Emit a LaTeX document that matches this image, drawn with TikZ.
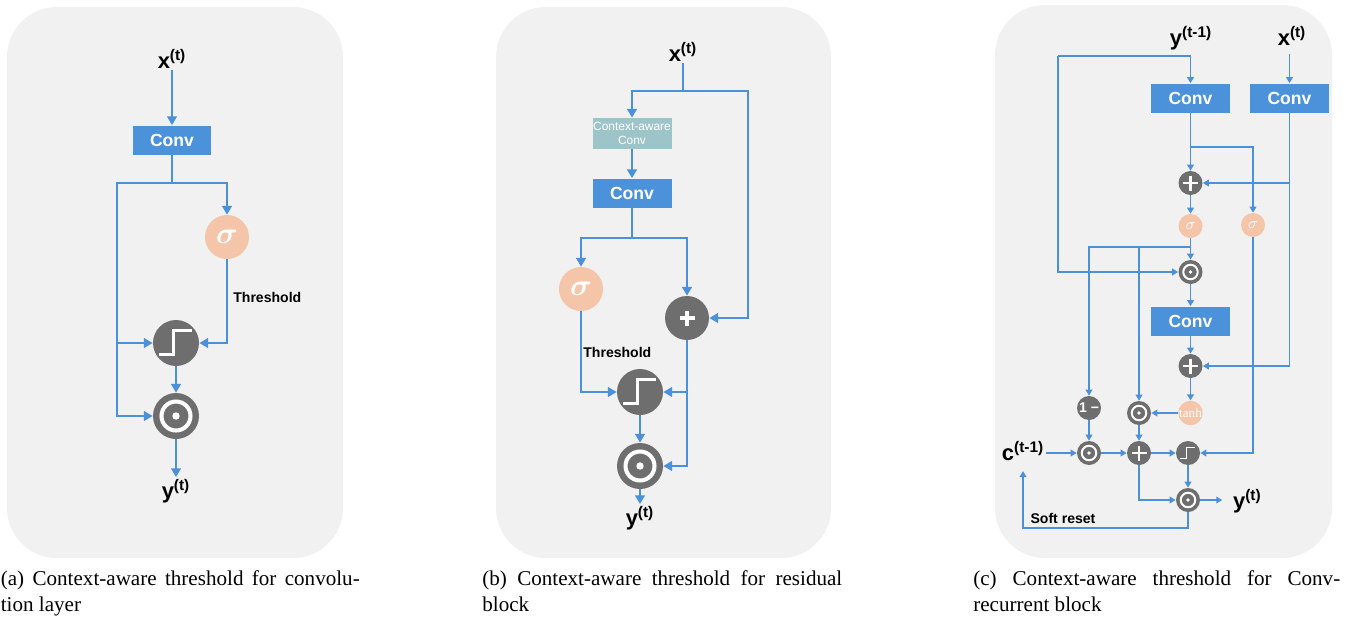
\documentclass[tikz,border=0pt]{standalone}
\usepackage{amsmath}
\usepackage{fontspec}
\setmainfont{Liberation Serif}
\setsansfont{Liberation Sans}
\usetikzlibrary{arrows.meta}
\definecolor{panelbg}{HTML}{F1F1F1}
\definecolor{lineblue}{HTML}{4A90DA}
\definecolor{convblue}{HTML}{4B92DB}
\definecolor{cagray}{HTML}{9DC4C9}
\definecolor{peach}{HTML}{F5C5A9}
\definecolor{opgray}{HTML}{6E6E6E}

\tikzstyle{every node} = [font=\sffamily\bfseries]
\tikzstyle{panel} = [fill=panelbg, rounded corners=1cm]
\tikzstyle{convbox} = [fill=convblue, text=white, minimum width=1.58cm, minimum height=0.58cm, inner sep=0pt, font=\fontsize{10}{12}\selectfont\sffamily\bfseries]
\tikzstyle{cabox} = [fill=cagray, text=white, minimum width=1.58cm, minimum height=0.62cm, inner sep=0pt, align=center, font=\fontsize{6.8}{8}\selectfont\sffamily]
\tikzstyle{sigcirc} = [circle, fill=peach, text=white, inner sep=0pt]
\tikzstyle{opnode} = [circle, fill=opgray, inner sep=0pt]
\tikzstyle{lbl} = [inner sep=1pt, font=\fontsize{12.5}{14}\selectfont\sffamily\bfseries]
\tikzstyle{note} = [inner sep=0pt, font=\fontsize{8}{10}\selectfont\sffamily\bfseries]
\tikzstyle{captxt} = [inner sep=0pt, font=\fontsize{12}{14.8}\selectfont\rmfamily\mdseries]
\tikzstyle{arr} = [draw=lineblue, line width=1.5pt, -{Triangle[length=5pt,width=5.5pt]}]
\tikzstyle{arrc} = [draw=lineblue, line width=1pt, -{Triangle[length=3.4pt,width=3.8pt]}]
\tikzset{
  bigop/.style={minimum size=0.92cm},
  smallop/.style={minimum size=0.48cm},
  bigsig/.style={sigcirc, minimum size=0.88cm, font=\fontsize{17}{17}\selectfont},
  smallsig/.style={sigcirc, minimum size=0.48cm, font=\fontsize{9}{9}\selectfont},
  stepop/.style={opnode, path picture={\draw[white, line width=#1*1.7pt, shift={(path picture bounding box.center)}]
      ({-16.9*#1},{11.5*#1}) -- ({-2.9*#1},{11.5*#1}) -- ({-2.9*#1},{-12.1*#1}) -- ({15.5*#1},{-12.1*#1});}},
  dotop/.style={opnode, path picture={\draw[white, line width=#1*2.3pt, shift={(path picture bounding box.center)}] (0,0) circle [radius={14.5*#1}];
      \fill[white, shift={(path picture bounding box.center)}] (0,0) circle [radius={3.7*#1}];}},
  plusop/.style 2 args={opnode, path picture={\draw[white, line width=#2, shift={(path picture bounding box.center)}] (-#1,0) -- (#1,0) (0,-#1) -- (0,#1);}}
}

\begin{document}
\begin{tikzpicture}[x=0.02cm, y=-0.02cm]
    \useasboundingbox (0,0) rectangle (1349,619);
    \fill[white] (0,0) rectangle (1349,619);
    \fill[panel] (7,7) rectangle (343,558);
    \fill[panel] (496,7) rectangle (831,558);
    \fill[panel] (995,5) rectangle (1332,558);

    % (a)
    \node[lbl, anchor=base] (xa) at (172,68) {x\textsuperscript{(t)}};
    \node[convbox] (conva) at (172,140) {Conv};
    \node[bigsig] (sga) at (227,237) {$\boldsymbol{\sigma}$};
    \node[stepop=1, bigop] (stpa) at (176,343) {};
    \node[dotop=1, bigop] (dota) at (176,416) {};
    \node[lbl, anchor=base] (ya) at (176,498) {y\textsuperscript{(t)}};
    \node[note, anchor=west] (tha) at (233,297) {Threshold};
    \coordinate (ja) at (172,183);
    \coordinate (busa) at (117,183);
    \draw[arr] (xa) -- (conva);
    \draw[arr] (conva.south) -- (ja) -| (sga.north);
    \draw[arr] (ja) -- (busa) |- (stpa.west);
    \draw[arr] (busa) |- (dota.west);
    \draw[arr] (sga.south) |- (stpa.east);
    \draw[arr] (stpa) -- (dota);
    \draw[arr] (dota) -- (ya);

    % (b)
    \node[lbl, anchor=base] (xb) at (683,61) {x\textsuperscript{(t)}};
    \node[cabox] (cab) at (632,133.5) {Context-aware\\Conv};
    \node[convbox] (convb) at (632,193) {Conv};
    \node[bigsig] (sgb) at (581,289) {$\boldsymbol{\sigma}$};
    \node[plusop={7.5}{2pt}, minimum size=0.88cm] (plb) at (687,318) {};
    \node[stepop=1, bigop] (stpb) at (640,392) {};
    \node[dotop=1, bigop] (dotb) at (640,466) {};
    \node[lbl, anchor=base] (yb) at (640,525) {y\textsuperscript{(t)}};
    \node[note, anchor=west] (thb) at (583,352) {Threshold};
    \coordinate (jb) at (683,91);
    \coordinate (rb) at (748,91);
    \coordinate (jb2) at (632,238);
    \draw[arr] (xb) -- (jb) -| (cab.north);
    \draw[arr] (jb) -- (rb) |- (plb.east);
    \draw[arr] (cab) -- (convb);
    \draw[arr] (convb.south) -- (jb2) -| (sgb.north);
    \draw[arr] (jb2) -| (plb.north);
    \draw[arr] (sgb.south) |- (stpb.west);
    \draw[arr] (plb.south) |- (stpb.east);
    \draw[arr] (plb.south) |- (dotb.east);
    \draw[arr] (stpb) -- (dotb);
    \draw[arr] (dotb) -- (yb);

    % (c)
    \node[lbl, anchor=base] (yc1) at (1191,45) {y\textsuperscript{(t-1)}};
    \node[lbl, anchor=base] (xc) at (1292,45) {x\textsuperscript{(t)}};
    \node[convbox] (cv1) at (1190.5,98) {Conv};
    \node[convbox] (cv2) at (1289.5,98) {Conv};
    \node[plusop={7.5}{1.5pt}, smallop] (pl1) at (1190.5,183) {};
    \node[smallsig] (sg1) at (1190.5,226) {$\sigma$};
    \node[smallsig] (sg2) at (1253,225) {$\sigma$};
    \node[dotop=0.5, smallop] (dt1) at (1190.5,272) {};
    \node[convbox] (cv3) at (1190.5,321) {Conv};
    \node[plusop={7.5}{1.5pt}, smallop] (pl2) at (1190.5,366) {};
    \node[smallsig, font=\fontsize{7.5}{8}\selectfont\rmfamily\mdseries] (th) at (1190.5,413) {tanh};
    \node[dotop=0.5, smallop] (dt2) at (1139,413) {};
    \node[opnode, smallop, text=white, font=\fontsize{8}{8}\selectfont\sffamily\bfseries] (om) at (1089,408) {1 −};
    \node[dotop=0.5, smallop] (dt3) at (1089,453) {};
    \node[plusop={7.5}{1.5pt}, smallop] (pl3) at (1139,453) {};
    \node[stepop=0.47, smallop] (stc) at (1188,453) {};
    \node[dotop=0.5, smallop] (dt4) at (1188,500) {};
    \node[lbl, anchor=base] (cc) at (1023,460) {c\textsuperscript{(t-1)}};
    \node[lbl, anchor=base west] (yc) at (1231,508) {y\textsuperscript{(t)}};
    \node[note] (sr) at (1063,518) {Soft reset};
    \coordinate (lpc) at (1058,56);
    \coordinate (jc1) at (1190.5,147);
    \coordinate (jc2) at (1190.5,247);
    \coordinate (src) at (1023,528);
    \draw[arrc, shorten <=4pt] (xc.south -| cv2.north) -- (cv2.north);
    \draw[arrc] (lpc) -| (cv1.north);
    \draw[arrc] (lpc) |- (dt1.west);
    \draw[arrc] (cv1) -- (pl1);
    \draw[arrc] (jc1) -| (sg2.north);
    \draw[arrc] (cv2.south) |- (pl1.east);
    \draw[arrc] (cv2.south) |- (pl2.east);
    \draw[arrc] (pl1) -- (sg1);
    \draw[arrc] (sg1) -- (dt1);
    \draw[arrc] (jc2) -| (om.north);
    \draw[arrc] (jc2) -| (dt2.north);
    \draw[arrc] (dt1) -- (cv3);
    \draw[arrc] (cv3) -- (pl2);
    \draw[arrc] (pl2) -- (th);
    \draw[arrc] (th) -- (dt2);
    \draw[arrc] (om) -- (dt3);
    \draw[arrc] (cc.east |- dt3) -- (dt3);
    \draw[arrc] (dt3) -- (pl3);
    \draw[arrc] (dt2) -- (pl3);
    \draw[arrc] (pl3) -- (stc);
    \draw[arrc] (sg2.south) |- (stc.east);
    \draw[arrc] (stc) -- (dt4);
    \draw[arrc] (pl3.south) |- (dt4.west);
    \draw[arrc, shorten >=5pt] (dt4) -- (dt4 -| yc.west);
    \draw[arrc, shorten >=5pt] (dt4.south) |- (src) -- (cc.south);

    % captions
    \node[captxt, anchor=base west] (capa) at (0.5,585) {\makebox[7.18cm][s]{(a) Context-aware threshold for convolu-}};
    \node[captxt, anchor=base west] (capa2) at (0.5,611) {tion layer};
    \node[captxt, anchor=base west] (capb) at (482,585) {\makebox[7.2cm][s]{(b) Context-aware threshold for residual}};
    \node[captxt, anchor=base west] (capb2) at (482,611) {block};
    \node[captxt, anchor=base west] (capc) at (973,585) {\makebox[7.34cm][s]{(c) Context-aware threshold for Conv-}};
    \node[captxt, anchor=base west] (capc2) at (973,611) {recurrent block};
\end{tikzpicture}
\end{document}
